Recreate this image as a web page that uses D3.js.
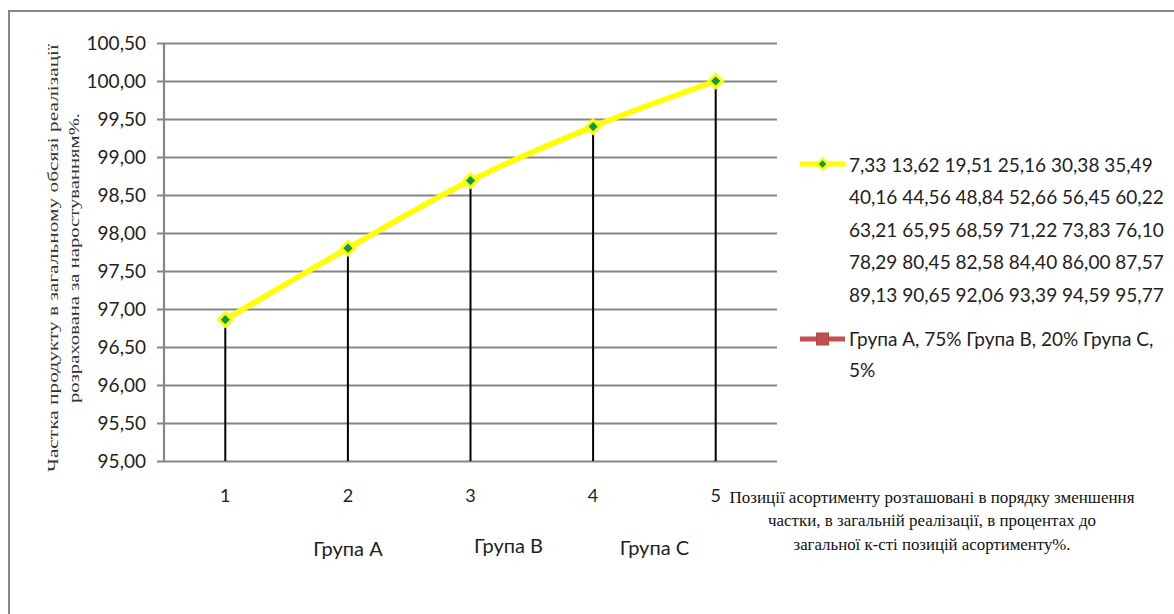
<!DOCTYPE html>
<html>
<head>
<meta charset="utf-8">
<script src="https://cdn.jsdelivr.net/npm/d3@7"></script>
<style>
  html, body { margin: 0; padding: 0; background: #fff; }
  svg { display: block; }
  .calib { font-family: "Liberation Sans Narrow", Lato, "Open Sans", sans-serif; }
  .serif { font-family: "Liberation Serif", "DejaVu Serif", serif; }
</style>
</head>
<body>
<svg id="chart" width="1174" height="614"></svg>
<script>
// ---- data ----
const categories = [1, 2, 3, 4, 5];
const cumulativeShare = [96.86, 97.80, 98.69, 99.40, 100.00];
const yTicks = [95.0, 95.5, 96.0, 96.5, 97.0, 97.5, 98.0, 98.5, 99.0, 99.5, 100.0, 100.5];
const series1NameLines = [
  "7,33 13,62 19,51 25,16 30,38 35,49",
  "40,16 44,56 48,84 52,66 56,45 60,22",
  "63,21 65,95 68,59 71,22 73,83 76,10",
  "78,29 80,45 82,58 84,40 86,00 87,57",
  "89,13 90,65 92,06 93,39 94,59 95,77"
];
const series2NameLines = ["Група А, 75% Група В, 20% Група С,", "5%"];
const groupLabels = ["Група А", "Група В", "Група С"];
const groupPositions = [2, 3.31, 4.5];
const yTitleLines = ["Частка продукту в загальному обсязі реалізації", "розрахована за наростуванням%."];
const xTitleLines = [
  "Позиції асортименту розташовані в порядку зменшення",
  "частки, в загальній реалізації, в процентах  до",
  "загальної к-сті позицій  асортименту%."
];

const svg = d3.select("#chart");

// outer border
svg.append("rect").attr("x", 9).attr("y", 11).attr("width", 1200).attr("height", 700)
  .attr("fill", "none").attr("stroke", "#868686").attr("stroke-width", 2);

const plotL = 164, plotR = 777, plotT = 43, plotB = 461;

const x = d3.scalePoint().domain(categories).range([plotL, plotR]).padding(0.5);
const xLin = d3.scaleLinear().domain([1, 5]).range([x(1), x(5)]);
const y = d3.scaleLinear().domain([95, 100.5]).range([plotB, plotT]);

// gridlines + y ticks
const yAxis = d3.axisLeft(y).tickValues(yTicks).tickSize(-(plotR - plotL)).tickSizeOuter(0)
  .tickFormat(d => d3.format(".2f")(d).replace(".", ","));
const gy = svg.append("g").attr("transform", `translate(${plotL},0)`).call(yAxis);
gy.select(".domain").remove();
gy.selectAll(".tick line").attr("stroke", "#868686").attr("stroke-width", 2.2).attr("x1", -7);
gy.selectAll(".tick text").attr("class", "calib").attr("x", -18).attr("dy", "0.35em")
  .attr("font-size", 19).attr("fill", "#222");

// y axis line
svg.append("line").attr("x1", plotL).attr("x2", plotL).attr("y1", plotT).attr("y2", plotB)
  .attr("stroke", "#868686").attr("stroke-width", 2.2);

// x tick labels
svg.append("g").selectAll("text").data(categories).join("text")
  .attr("class", "calib").attr("x", d => x(d)).attr("y", 496).attr("dy", "0.35em")
  .attr("text-anchor", "middle").attr("font-size", 18).attr("fill", "#222").text(d => d);

// drop lines
svg.append("g").selectAll("line").data(categories).join("line")
  .attr("x1", d => x(d)).attr("x2", d => x(d))
  .attr("y1", (d, i) => y(cumulativeShare[i])).attr("y2", y(95))
  .attr("stroke", "#000").attr("stroke-width", 2);

// series line
const line = d3.line().x((d, i) => x(categories[i])).y(d => y(d)).curve(d3.curveMonotoneX);
svg.append("path").datum(cumulativeShare).attr("d", line)
  .attr("fill", "none").attr("stroke", "#FFFF00").attr("stroke-width", 5.5)
  .attr("stroke-linejoin", "round");

svg.append("g").selectAll("path").data(cumulativeShare).join("path")
  .attr("d", d3.symbol().type(d3.symbolSquare).size(90))
  .attr("transform", (d, i) => `translate(${x(categories[i])},${y(d)}) rotate(45)`)
  .attr("fill", "#0A9A4A").attr("stroke", "#FFFF00").attr("stroke-width", 3);

// group labels
const groupY = [549, 546, 548];
svg.append("g").selectAll("text").data(groupLabels).join("text")
  .attr("class", "calib").attr("x", (d, i) => xLin(groupPositions[i])).attr("y", (d, i) => groupY[i])
  .attr("dy", "0.35em").attr("text-anchor", "middle").attr("font-size", 20).attr("fill", "#222")
  .text(d => d);

// x title
const xTitleLen = [405, 328, 277];
svg.append("g").selectAll("text").data(xTitleLines).join("text")
  .attr("class", "serif").attr("x", 932).attr("y", (d, i) => 497 + i * 23.5).attr("dy", "0.35em")
  .attr("text-anchor", "middle").attr("font-size", 17).attr("fill", "#111")
  .attr("textLength", (d, i) => xTitleLen[i]).attr("lengthAdjust", "spacingAndGlyphs")
  .text(d => d);

// y title
const yTitleLen = [428, 290];
svg.append("g").attr("transform", "translate(0,258)").selectAll("text").data(yTitleLines).join("text")
  .attr("class", "serif").attr("transform", (d, i) => `translate(${53 + i * 21},0) rotate(-90)`)
  .attr("dy", "0.35em").attr("text-anchor", "middle").attr("font-size", 15.5).attr("fill", "#333")
  .attr("textLength", (d, i) => yTitleLen[i]).attr("lengthAdjust", "spacingAndGlyphs")
  .text(d => d);

// legend
const lg = svg.append("g");
const lx0 = 800, lx1 = 845, ltx = 849;
lg.append("line").attr("x1", lx0).attr("x2", lx1).attr("y1", 164).attr("y2", 164)
  .attr("stroke", "#FFFF00").attr("stroke-width", 5);
lg.append("path").attr("d", d3.symbol().type(d3.symbolSquare).size(60))
  .attr("transform", `translate(${(lx0 + lx1) / 2},164) rotate(45)`)
  .attr("fill", "#0A9A4A").attr("stroke", "#FFFF00").attr("stroke-width", 2.5);
lg.selectAll("text.s1").data(series1NameLines).join("text").attr("class", "calib s1")
  .attr("x", ltx).attr("y", (d, i) => 165 + i * 32.5).attr("dy", "0.35em")
  .attr("font-size", 19).attr("fill", "#222").text(d => d);

lg.append("line").attr("x1", lx0).attr("x2", lx1).attr("y1", 339).attr("y2", 339)
  .attr("stroke", "#C0504D").attr("stroke-width", 5);
lg.append("rect").attr("x", (lx0 + lx1) / 2 - 6).attr("y", 333).attr("width", 12).attr("height", 12)
  .attr("fill", "#C0504D").attr("stroke", "#B04844");
lg.selectAll("text.s2").data(series2NameLines).join("text").attr("class", "calib s2")
  .attr("x", ltx).attr("y", (d, i) => 339 + i * 31).attr("dy", "0.35em")
  .attr("font-size", 19).attr("fill", "#222").text(d => d);
</script>
</body>
</html>
